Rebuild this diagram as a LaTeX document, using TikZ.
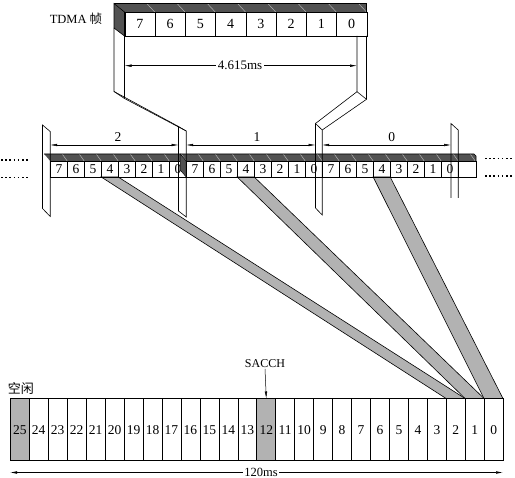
\documentclass[tikz,border=0pt]{standalone}
\usepackage{fontspec}
\setmainfont{Liberation Serif}
\newfontfamily\cjk{Noto Sans CJK SC}
\usetikzlibrary{arrows.meta}
\begin{document}
\begin{tikzpicture}[x=1pt,y=-1pt,line width=0.6pt,
  darkface/.style={fill=black!68},
  sepline/.style={draw=black!30,line width=0.5pt},
  bandfill/.style={fill=black!30,draw=black,line width=0.6pt},
  cellbox/.style={draw,inner sep=0pt,anchor=north west},
  numtxt/.style={font=\fontsize{13.5}{13.5}\selectfont},
  dimarrow/.style={{Latex[length=7pt,width=2.6pt]}-{Latex[length=7pt,width=2.6pt]},line width=0.5pt},
  onearrow/.style={-{Latex[length=7pt,width=2.6pt]},line width=0.5pt},
  lbl/.style={inner sep=1pt,font=\fontsize{12.5}{12.5}\selectfont},
  dots/.style={line width=1.6pt,dash pattern=on 1.6pt off 2.6pt}]
\useasboundingbox (0,0) rectangle (515,478);

% ---------- diagonal bands ----------
\foreach \s/\e in {101.2/446.1,237.2/465.1,373.2/484.0}{
  \draw[bandfill] (\s,177) -- (\s+17,177) -- (\e+18.96,398.5) -- (\e,398.5) -- cycle;
}

% ---------- top TDMA frame ----------
\fill[darkface] (114,3.5) -- (366.5,3.5) -- (366.5,12) -- (124.5,12) -- cycle;
\foreach \i in {1,...,8}{ \draw[sepline] (124.5+\i*30.25,12) -- ++(-8,-8.5); }
\draw (114,3.5) -- (366.5,3.5) -- (366.5,12) -- (124.5,12);
\filldraw[darkface,draw=black] (114,3.5) -- (124.5,12) -- (124.5,36) -- (114,28) -- cycle;
\foreach \i/\t in {0/7,1/6,2/5,3/4,4/3,5/2,6/1,7/0}{
  \node[cellbox,font=\fontsize{14}{14}\selectfont,minimum width=30.25pt,minimum height=24pt] (t\i) at (124.5+\i*30.25,12) {\t};
}
\node[lbl,anchor=center] (tdma) at (76,18.5) {TDMA {\cjk 帧}};

% ---------- ribbons from top frame ----------
\draw (114,28) -- (114,91.5) -- (178.5,126.5);
\draw (124.5,36) -- (124.5,98.5) -- (186.2,131);
\draw (114,91.5) -- (124.5,98.5);
\draw (357,36) -- (357,91.7) -- (315.5,123.5);
\draw (366.5,36) -- (366.5,99.3) -- (322.2,130);
\draw (357,91.7) -- (366.5,99.3);

% 4.615ms dimension
\coordinate (dl) at (124.5,65.7);
\coordinate (dr) at (357,65.7);
\draw[dimarrow] (dl) -- (dr);
\node[lbl,fill=white,inner sep=1.5pt,font=\fontsize{13}{13}\selectfont] (d4615) at (240,65.7) {4.615ms};

% ---------- middle row ----------
\fill[darkface] (44.2,154) -- (474,154) -- (476,156) -- (476,161) -- (50.2,161) -- cycle;
\foreach \i in {1,...,25}{ \draw[sepline] (50.2+\i*17,161) -- ++(-5,-7); }
\draw (44.2,154) -- (474,154) -- (476,156) -- (476,161);
\foreach \i in {0,...,23}{
  \pgfmathtruncatemacro\d{7-mod(\i,8)}
  \node[cellbox,numtxt,minimum width=17pt,minimum height=16pt] (m\i) at (50.2+\i*17,161) {\d};
}
\node[cellbox,minimum width=17.5pt,minimum height=16pt] (m24) at (458.2,161) {};
% left face of frame 1
\filldraw[darkface,draw=black,line width=0.4pt] (180.2,154) -- (186.2,161) -- (186.2,177) -- (180.2,170) -- cycle;

% separator bars
\draw (42.5,125) -- (50.2,131.5) -- (50.2,216.5) -- (42.5,208.5) -- cycle;
\draw (178.5,126.5) -- (186.2,131) -- (186.2,217) -- (178.5,211) -- cycle;
\draw (315.5,123.5) -- (322.2,130) -- (322.2,215) -- (315.5,208) -- cycle;
\draw (451,198) -- (451,123.5) -- (458.2,130) -- (458.2,198);

% frame dimensions
\coordinate (a2l) at (50.2,145);  \coordinate (a2r) at (178.5,145);
\coordinate (a1l) at (186.2,145); \coordinate (a1r) at (315.5,145);
\coordinate (a0l) at (322.2,145); \coordinate (a0r) at (451,145);
\draw[dimarrow] (a2l) -- (a2r);
\draw[dimarrow] (a1l) -- (a1r);
\draw[dimarrow] (a0l) -- (a0r);
\node[lbl,font=\fontsize{13.5}{13.5}\selectfont] (f2) at (118,137.5) {2};
\node[lbl,font=\fontsize{13.5}{13.5}\selectfont] (f1) at (257,137.5) {1};
\node[lbl,font=\fontsize{13.5}{13.5}\selectfont] (f0) at (391.7,137.5) {0};

% continuation dots
\draw[dots] (1,160) -- (30,160);
\draw[dots] (1,177.5) -- (30,177.5);
\draw[dots] (485,158.5) -- (514,158.5);
\draw[dots] (485,176) -- (514,176);

% ---------- bottom multiframe ----------
\foreach \i in {0,...,25}{
  \pgfmathtruncatemacro\d{25-\i}
  \ifnum\i=0 \def\cf{black!30}\else\ifnum\i=13 \def\cf{black!30}\else\def\cf{white}\fi\fi
  \node[cellbox,fill=\cf,minimum width=18.96pt,minimum height=62pt,font=\fontsize{13.5}{13.5}\selectfont] (b\i) at (10+\i*18.96,398.5) {\d};
}
\node[lbl,font=\fontsize{13}{13}\selectfont\cjk] (idle) at (21,389) {空闲};
\node[lbl,font=\fontsize{12}{12}\selectfont] (sacch) at (265,363.5) {SACCH};
\draw[onearrow] (sacch.south) -- (b13.north);

\coordinate (tl) at (10,472.5);
\coordinate (tr) at (503,472.5);
\draw[dimarrow] (tl) -- (tr);
\node[lbl,fill=white,inner sep=1pt,font=\fontsize{12.5}{12.5}\selectfont] (t120) at (261,472.5) {120ms};
\end{tikzpicture}
\end{document}
